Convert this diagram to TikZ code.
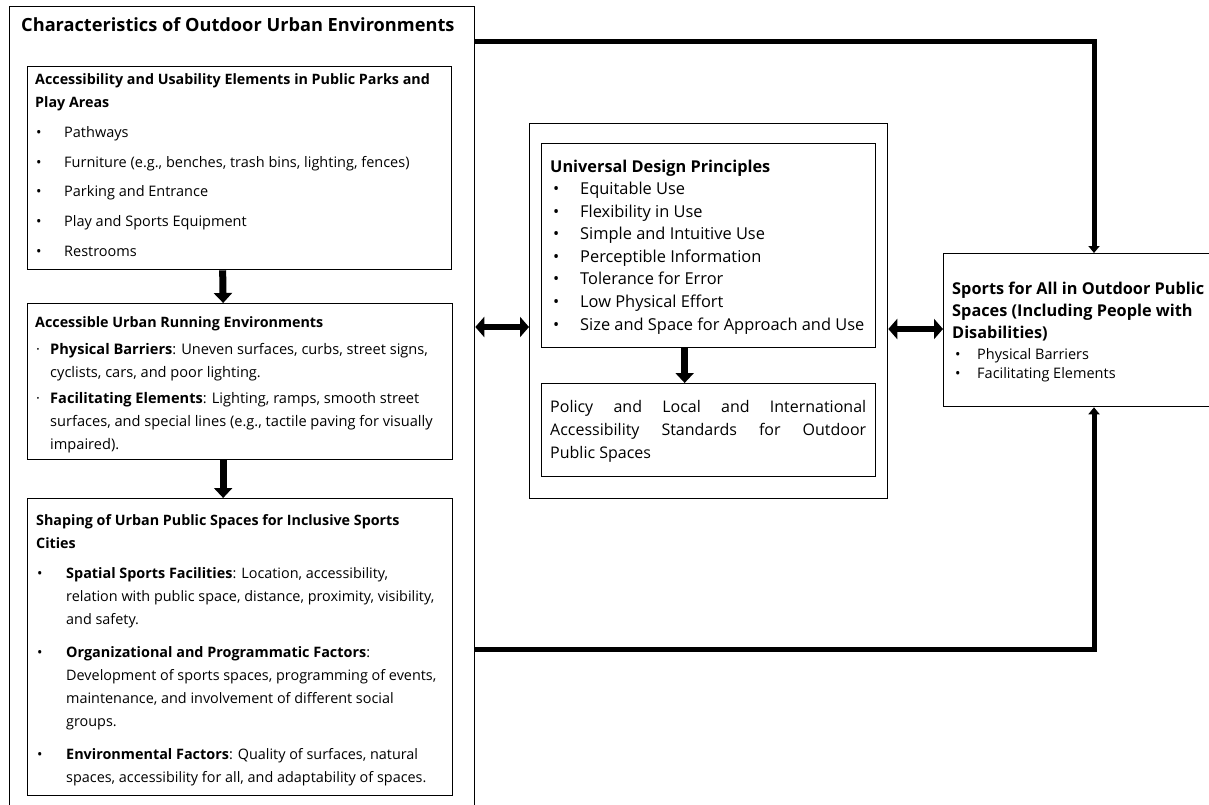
\documentclass[tikz,border=0pt]{standalone}
\usepackage{fontspec}
\setmainfont{Open Sans}
\usetikzlibrary{arrows.meta}

\newcommand{\fs}[2]{\fontsize{#1}{#2}\selectfont}
\newcommand{\bul}[1]{\makebox[#1][l]{•}}
\newcommand{\dotb}[1]{\makebox[#1][l]{·}}

\begin{document}
\begin{tikzpicture}[x=1pt, y=-1pt,
  box/.style={draw, line width=1.3pt, anchor=north west, inner sep=0pt},
  txt/.style={anchor=base west, inner sep=0pt, align=left},
  down/.style={-{Triangle[width=18pt,length=10pt]}, line width=7pt},
  both/.style={{Triangle[width=20pt,length=9pt]}-{Triangle[width=20pt,length=9pt]}, line width=6pt},
  link/.style={-{Triangle[width=11pt,length=7pt]}, line width=5pt}]
\clip (0,0) rectangle (1209,805);
\fill[white] (0,0) rectangle (1209,805);
%% --- Left: outer frame and its three boxes ---
\node[box, minimum width=465pt, minimum height=830pt] (outer) at (9,6) {};
\node[txt, font=\fs{18.2}{23}\bfseries] (maintitle) at (21,32) {Characteristics of Outdoor Urban Environments};
\node[box, minimum width=424pt, minimum height=203pt] (acc) at (27,66) {};
\node[txt, font=\fs{14.3}{23}\bfseries] (acchead) at (35,108) {Accessibility and Usability Elements in Public Parks and\\Play Areas};
\node[txt, font=\fs{14.5}{29.6}] (acclist) at (36,256) {\bul{28pt}Pathways\\
  \bul{28pt}Furniture (e.g., benches, trash bins, lighting, fences)\\
  \bul{28pt}Parking and Entrance\\
  \bul{28pt}Play and Sports Equipment\\
  \bul{28pt}Restrooms};
\node[box, minimum width=425pt, minimum height=156pt] (run) at (27,303) {};
\node[txt, font=\fs{14.3}{22.5}\bfseries] (runhead) at (35,327) {Accessible Urban Running Environments};
\node[txt, font=\fs{14.6}{22.8}] (runlist) at (36,449) {\dotb{14pt}\textbf{Physical Barriers}: Uneven surfaces, curbs, street signs,\\
  \hspace*{14pt}cyclists, cars, and poor lighting.\\[3.5pt]
  \dotb{14pt}\textbf{Facilitating Elements}: Lighting, ramps, smooth street\\
  \hspace*{14pt}surfaces, and special lines (e.g., tactile paving for visually\\
  \hspace*{14pt}impaired).};
\node[box, minimum width=425pt, minimum height=297pt] (shape) at (27,498) {};
\node[txt, font=\fs{14.3}{23}\bfseries] (shapehead) at (36,548) {Shaping of Urban Public Spaces for Inclusive Sports\\Cities};
\node[txt, font=\fs{14.4}{23}] (shapelist) at (37,782) {\bul{29pt}\textbf{Spatial Sports Facilities}: Location, accessibility,\\
  \hspace*{29pt}relation with public space, distance, proximity, visibility,\\
  \hspace*{29pt}and safety.\\[10pt]
  \bul{29pt}\textbf{Organizational and Programmatic Factors}:\\
  \hspace*{29pt}Development of sports spaces, programming of events,\\
  \hspace*{29pt}maintenance, and involvement of different social\\
  \hspace*{29pt}groups.\\[10pt]
  \bul{29pt}\textbf{Environmental Factors}: Quality of surfaces, natural\\
  \hspace*{29pt}spaces, accessibility for all, and adaptability of spaces.};
\draw[down] ([xshift=-17pt]acc.south) -- ([xshift=-17pt]run.north);
\draw[down] ([xshift=-17pt]run.south) -- ([xshift=-17pt]shape.north);
%% --- Middle: design principles and standards ---
\node[box, minimum width=358pt, minimum height=375pt] (mid) at (529,123) {};
\node[box, minimum width=334pt, minimum height=204pt] (ud) at (541,143) {};
\node[txt, font=\fs{16.3}{22.6}\bfseries] (udhead) at (550,172) {Universal Design Principles};
\node[txt, font=\fs{16.4}{22.6}] (udlist) at (553,330) {\bul{27pt}Equitable Use\\
  \bul{27pt}Flexibility in Use\\
  \bul{27pt}Simple and Intuitive Use\\
  \bul{27pt}Perceptible Information\\
  \bul{27pt}Tolerance for Error\\
  \bul{27pt}Low Physical Effort\\
  \bul{27pt}Size and Space for Approach and Use};
\node[box, minimum width=334pt, minimum height=93pt] (policy) at (541,383) {};
\node[anchor=base west, inner sep=0pt, text width=316pt, align=justify, font=\fs{16}{23}] (policytxt) at (550,412) {Policy and Local and International\linebreak Accessibility Standards for Outdoor\linebreak Public Spaces};
\draw[down] ([xshift=-24pt]ud.south) -- ([xshift=-24pt]policy.north);
%% --- Right: sports for all ---
\node[box, minimum width=300pt, minimum height=153pt] (sports) at (943,253) {};
\node[txt, font=\fs{16.3}{22}\bfseries] (sportshead) at (952,338) {Sports for All in Outdoor Public\\Spaces (Including People with\\Disabilities)};
\node[txt, font=\fs{14.5}{19}] (sportslist) at (955,378) {\bul{22pt}Physical Barriers\\
  \bul{22pt}Facilitating Elements};
%% --- Connectors ---
\draw[both] (outer.east |- 0,327) -- (mid.west |- 0,327);
\draw[both] (mid.east |- 0,329) -- (sports.west |- 0,329);
\draw[link] (outer.east |- 0,42) -| ([xshift=151pt]sports.north west);
\draw[link] (outer.east |- 0,649) -| ([xshift=151pt]sports.south west);
\end{tikzpicture}
\end{document}
